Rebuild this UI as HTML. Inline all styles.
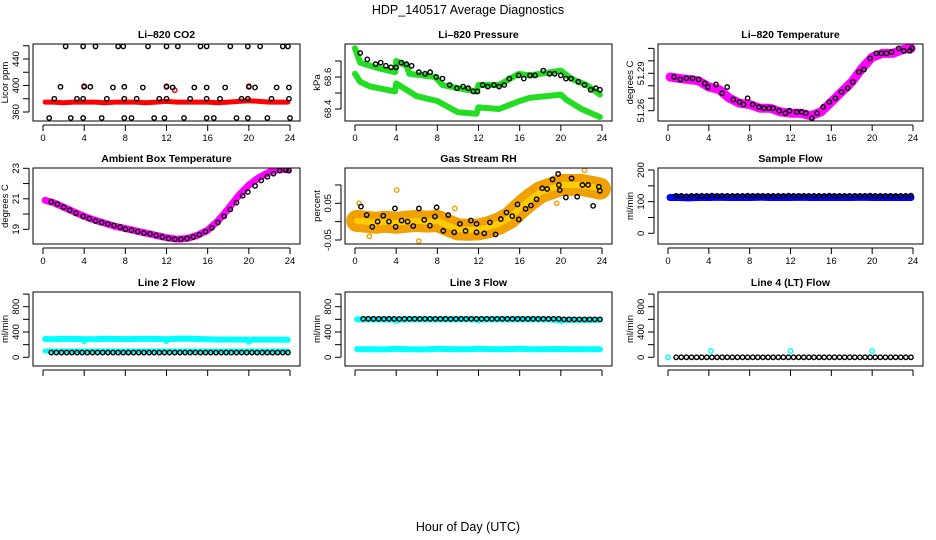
<!DOCTYPE html>
<html><head><meta charset="utf-8">
<style>
html,body{margin:0;padding:0;background:#fff;}
svg{display:block;font-family:"Liberation Sans",Arial,sans-serif;}
</style></head>
<body>
<svg id="chart" width="936" height="540" viewBox="0 0 936 540" xmlns="http://www.w3.org/2000/svg">
<rect width="936" height="540" fill="#fff"/>
<text x="468" y="14" font-size="12.5" text-anchor="middle">HDP_140517  Average Diagnostics</text>
<text x="468" y="531" font-size="12.5" text-anchor="middle">Hour of Day (UTC)</text>
<g id="panels"></g>
</svg>
<script>
// ---- shared categories ----
const bandHours = [0.2,1,2,3,4,5,6,7,8,9,10,11,12,13,14,15,16,17,18,19,20,21,22,23,23.8];
const denseHours = [0.8,1.3,1.8,2.3,2.8,3.3,3.8,4.3,4.8,5.3,5.8,6.3,6.8,7.3,7.8,8.3,8.8,9.3,9.8,10.3,10.8,11.3,11.8,12.3,12.8,13.3,13.8,14.3,14.8,15.3,15.8,16.3,16.8,17.3,17.8,18.3,18.8,19.3,19.8,20.3,20.8,21.3,21.8,22.3,22.8,23.3,23.8];
const xTicks = [0,4,8,12,16,20,24];

// ---- CO2 ----
const co2Band = [375,375,374,375,375,375,374,375,375,375,374,375,376,375,375,375,375,374,375,376,377,376,375,375,375];
const co2BlackH = [2.2,3.9,5.1,7.3,7.8,10.2,12.0,13.1,15.3,15.9,18.2,19.9,21.1,23.3,23.8, 1.7,4.0,4.6,6.8,7.9,9.7,12.0,12.6,14.7,15.9,17.7,20.0,20.6,22.7,23.9, 1.1,3.3,3.9,6.2,7.9,9.1,11.3,12.0,14.3,15.9,17.2,19.3,19.9,22.2,23.9, 0.6,2.7,3.9,5.7,7.9,8.6,10.8,11.8,13.7,15.9,16.6,18.8,19.9,21.8,24.0];
const co2BlackV = [459,459,459,459,459,459,459,459,459,459,459,459,459,459,459, 398,398,398,397,398,397,398,397,397,397,397,398,397,397,397, 380,380,380,380,380,380,380,380,380,380,380,380,380,380,380, 351,351,351,351,351,351,351,351,351,351,351,351,351,351,351];
const co2RedH = [4.0,12.0,12.8,20.0];
const co2RedV = [399,399,393,399];

// ---- Pressure ----
const presUpperH = [0,0.5,2,3.9,4.0,5,5.3,7.8,8.5,10,11.8,12,14,15.9,17,18,20,21,22.5,23.8];
const presUpperV = [68.78,68.69,68.66,68.63,68.70,68.67,68.62,68.60,68.55,68.53,68.51,68.55,68.55,68.62,68.61,68.62,68.64,68.59,68.55,68.49];
const presLowerH = [0,0.5,1.5,3.9,4.0,6,8,10,11.8,12,14,16,17,20,20.5,22,23.8];
const presLowerV = [68.62,68.57,68.54,68.51,68.56,68.48,68.45,68.38,68.37,68.41,68.40,68.45,68.47,68.49,68.46,68.40,68.35];
const presBlackH = [0.5,1.2,2,2.5,3,3.5,4,4.5,5,5.5,6.2,6.8,7.3,7.9,8.5,9.2,9.9,10.5,11,11.5,11.9,12.4,12.9,13.5,14,14.5,15,15.9,16.4,17,17.5,18.3,18.9,19.4,20,20.5,21,21.7,22.3,22.9,23.4,23.8];
const presBlackV = [68.75,68.71,68.68,68.69,68.67,68.66,68.66,68.69,68.68,68.67,68.63,68.62,68.63,68.60,68.59,68.55,68.53,68.54,68.53,68.51,68.51,68.55,68.54,68.55,68.54,68.55,68.59,68.61,68.59,68.61,68.61,68.64,68.62,68.62,68.61,68.59,68.59,68.57,68.55,68.52,68.53,68.52];

// ---- Li-820 Temperature ----
const tempBand = [51.287,51.286,51.285,51.284,51.279,51.277,51.270,51.266,51.265,51.262,51.262,51.259,51.258,51.258,51.256,51.259,51.267,51.275,51.283,51.294,51.303,51.306,51.306,51.309,51.310];
const tempBlackH = [0.6,1.2,1.8,2.4,3,3.6,3.9,4.7,5.3,5.8,6.4,7,7.4,7.8,8.3,8.9,9.4,9.9,10.3,10.9,11.5,11.9,12.6,13.1,13.5,14.1,14.6,15.2,15.8,16.4,17,17.6,18.1,18.7,19.2,19.8,20.4,20.9,21.4,21.9,22.6,23.1,23.7,23.9];
const tempBlackV = [51.287,51.285,51.286,51.286,51.285,51.282,51.279,51.281,51.274,51.279,51.269,51.267,51.265,51.270,51.265,51.263,51.262,51.262,51.262,51.260,51.258,51.260,51.259,51.259,51.258,51.254,51.258,51.263,51.267,51.270,51.275,51.278,51.283,51.291,51.293,51.302,51.306,51.306,51.306,51.307,51.310,51.308,51.308,51.310];

// ---- Ambient Box Temperature ----
const ambBand = [20.9,20.75,20.45,20.15,19.85,19.6,19.4,19.2,19.05,18.9,18.75,18.6,18.45,18.35,18.4,18.6,18.95,19.55,20.35,21.2,21.9,22.4,22.75,22.95,22.9];
const ambBlackH = [0.8,1.4,2,2.6,3.2,3.9,4.5,5.1,5.7,6.3,6.9,7.5,8.0,8.6,9.2,9.8,10.4,11,11.6,12.2,12.8,13.4,14,14.6,15.2,15.8,16.4,17,17.6,18.2,18.8,19.4,19.9,20.6,21.2,21.8,22.4,23,23.6,23.9];
const ambBlackV = [20.8,20.65,20.45,20.25,20.05,19.85,19.7,19.55,19.45,19.35,19.25,19.15,19.0,18.95,18.85,18.75,18.7,18.6,18.5,18.4,18.35,18.35,18.4,18.5,18.65,18.85,19.1,19.45,19.85,20.3,20.75,21.2,21.45,21.85,22.2,22.45,22.65,22.85,22.9,22.85];

// ---- Gas Stream RH ----
const rhBand = [0.002,0.0,-0.003,0.0,-0.003,0.0,0.002,0.0,0.002,-0.01,-0.021,-0.022,-0.021,-0.015,-0.005,0.01,0.036,0.06,0.08,0.09,0.1,0.1,0.1,0.095,0.09];
const rhBlackH = [0.58,1.13,1.68,2.2,2.75,3.3,3.88,3.95,4.53,5.11,5.66,6.21,6.73,7.28,7.93,7.77,8.58,9.06,9.64,10.19,10.74,11.26,11.81,11.81,12.56,13.11,13.66,14.17,14.72,15.28,15.79,15.92,16.57,17.09,17.64,18.19,18.67,19.19,19.81,19.74,19.9,20.49,21.04,21.59,22.1,22.65,23.14,23.69,23.79];
const rhBlackV = [0.041,0.018,-0.014,0.0,0.016,0.0,0.036,-0.014,0.003,0.0,-0.012,0.036,0.005,-0.011,0.039,0.014,-0.025,0.018,-0.029,-0.006,-0.025,0.003,-0.006,-0.029,-0.032,-0.002,-0.035,0.007,0.025,0.015,0.047,0.006,0.035,0.044,0.061,0.091,0.089,0.115,0.1,0.13,0.086,0.066,0.118,0.068,0.1,0.1,0.043,0.095,0.084];
const rhOutH = [4.05,6.2,0.4,1.4,9.7,19.6,22.3];
const rhOutV = [0.086,-0.053,0.05,-0.04,0.036,0.05,0.14];

// ---- Sample Flow ----
const sampleBand = [113,113,112,113,113,114,113,113,113,114,113,113,113,114,113,113,113,113,113,114,113,113,113,113,113];
const sampleBlack = [118,118,117,118,118,118,118,119,118,118,118,118,118,118,119,118,118,118,118,118,118,118,119,118,118,118,118,118,118,118,119,118,118,118,118,118,118,118,119,118,118,118,118,118,118,118,119];

// ---- Line 2 Flow ----
const line2Upper = [290,285,292,290,288,285,292,290,288,290,292,290,285,292,295,290,285,280,282,280,278,280,280,280,278];
const line2Lower = [100,100,100,100,100,100,100,100,100,100,100,100,100,100,100,100,100,100,100,100,100,100,100,100,100];
const line2Black = [75,75,75,75,75,75,75,75,75,75,75,75,75,75,75,75,75,75,75,75,75,75,75,75,75,75,75,75,75,75,75,75,75,75,75,75,75,75,75,75,75,75,75,75,75,75,75];
const line2DipH = [4,12,20];
const line2DipV = [250,255,245];

// ---- Line 3 Flow ----
const line3Upper = [600,600,598,600,592,600,600,600,600,600,600,600,598,600,600,600,600,600,600,598,585,590,590,590,592];
const line3Lower = [130,128,128,125,135,128,125,125,135,130,128,128,135,130,128,130,135,128,128,130,132,128,128,128,128];
const line3Black = [608,608,608,608,608,608,608,606,608,608,608,608,608,608,608,608,608,606,608,608,608,608,608,608,608,608,608,608,608,608,608,608,608,608,608,608,608,608,608,600,600,600,600,600,600,600,600];
const line3DipH = [4,12,20];
const line3DipV = [575,580,570];

// ---- Line 4 Flow ----
const line4Black = [0,0,0,0,0,0,0,0,0,0,0,0,0,0,0,0,0,0,0,0,0,0,0,0,0,0,0,0,0,0,0,0,0,0,0,0,0,0,0,0,0,0,0,0,0,0,0];
const line4CyanH = [0,4.2,12.0,20.0];
const line4CyanV = [0,100,100,100];

const NS = 'http://www.w3.org/2000/svg';
const root = document.getElementById('panels');
function mk(tag, attrs, parent){ const e=document.createElementNS(NS,tag); for(const k in attrs) e.setAttribute(k,attrs[k]); (parent||root).appendChild(e); return e; }

function panel(cfg){
  const g = mk('g',{});
  
  
  const x0 = cfg.l+10, x1 = cfg.r-10;
  const xs = h => x0 + (x1-x0)*h/24;
  const ys = v => cfg.yp1 + (v-cfg.yv1)*(cfg.yp2-cfg.yp1)/(cfg.yv2-cfg.yv1);
  const cx = (cfg.l+cfg.r)/2;
  const t = mk('text',{x:cx,y:cfg.t-6,'font-size':10.5,'font-weight':'bold','text-anchor':'middle'},g);
  t.textContent = cfg.title;
  
  
  const clip = mk('clipPath',{id:'c'+cfg.id},g);
  mk('rect',{x:cfg.l,y:cfg.t,width:cfg.r-cfg.l,height:cfg.b-cfg.t},clip);
  const plot = mk('g',{'clip-path':'url(#c'+cfg.id+')'},g);
  
  
  cfg.draw(plot, xs, ys);
  const box = mk('rect',{x:cfg.l,y:cfg.t,width:cfg.r-cfg.l,height:cfg.b-cfg.t,fill:'none',stroke:'#000','stroke-width':1},g);
  
  
  xTicks.forEach(h=>{
    const x = xs(h);
    const tk = mk('line',{x1:x,x2:x,y1:cfg.b+4,y2:cfg.b+10,stroke:'#000'},g);
    
    
    if(cfg.xlabels){
      const lt = mk('text',{x:x,y:cfg.b+20,'font-size':9.5,'text-anchor':'middle'},g);
      lt.textContent = h;
      
      
    }
  });
  mk('line',{x1:x0,x2:x1,y1:cfg.b+4,y2:cfg.b+4,stroke:'#000'},g);
  const yt = cfg.yticks.map(ys);
  mk('line',{x1:cfg.l-4,x2:cfg.l-4,y1:Math.min(...yt),y2:Math.max(...yt),stroke:'#000'},g);
  cfg.yticks.forEach(v=>{
    const y = ys(v);
    const tk = mk('line',{x1:cfg.l-10,x2:cfg.l-4,y1:y,y2:y,stroke:'#000'},g);
    
    
  });
  cfg.ylabels.forEach(v=>{
    const y = ys(v);
    const lt = mk('text',{x:0,y:0,'font-size':9.5,'text-anchor':'middle',transform:`translate(${cfg.l-14},${y}) rotate(-90)`},g);
    lt.textContent = cfg.fmt ? cfg.fmt(v) : v;
    
    
  });
  const yl = mk('text',{x:0,y:0,'font-size':9.5,'text-anchor':'middle',transform:`translate(${cfg.l-25},${(cfg.t+cfg.b)/2}) rotate(-90)`},g);
  yl.textContent = cfg.ylab;
  
  
}

function band(p, xs, ys, H, V, color, w, name){
  const pts = H.map((h,i)=>xs(h).toFixed(1)+','+ys(V[i]).toFixed(1)).join(' ');
  const pl = mk('polyline',{points:pts,fill:'none',stroke:color,'stroke-width':w,'stroke-linejoin':'round','stroke-linecap':'round'},p);
  
  
}
function dots(p, xs, ys, H, V, color, name, r){
  H.forEach((h,i)=>{
    const c = mk('circle',{cx:xs(h),cy:ys(V[i]),r:r||2.2,fill:'none',stroke:color,'stroke-width':1.4},p);
    
    
  });
}

// Row 1
panel({id:1,name:'co2-panel',title:'Li\u2013820 CO2',ylab:'Licor ppm',l:33,r:300,t:44,b:121,yv1:360,yp1:112,yv2:440,yp2:59,
  yticks:[360,380,400,420,440,460],ylabels:[360,400,440],xlabels:true,
  draw:(p,xs,ys)=>{ band(p,xs,ys,bandHours,co2Band,'#ff0000',5,'co2-red-series'); dots(p,xs,ys,co2RedH,co2RedV,'#ff0000','co2-red-point'); dots(p,xs,ys,co2BlackH,co2BlackV,'#000','co2-black-point'); }});
panel({id:2,name:'pressure-panel',title:'Li\u2013820 Pressure',ylab:'kPa',l:345,r:612,t:44,b:121,yv1:68.6,yp1:77,yv2:68.4,yp2:109,
  yticks:[68.4,68.5,68.6,68.7],ylabels:[68.4,68.6],xlabels:true,fmt:v=>v.toFixed(1),
  draw:(p,xs,ys)=>{ band(p,xs,ys,presUpperH,presUpperV,'#22dd22',6,'pressure-upper-green'); band(p,xs,ys,presLowerH,presLowerV,'#22dd22',6,'pressure-lower-green'); dots(p,xs,ys,presBlackH,presBlackV,'#000','pressure-black-point'); }});
panel({id:3,name:'li820-temperature-panel',title:'Li\u2013820 Temperature',ylab:'degrees C',l:658,r:923,t:44,b:121,yv1:51.26,yp1:110.7,yv2:51.29,yp2:73.3,
  yticks:[51.26,51.27,51.28,51.29,51.30,51.31],ylabels:[51.26,51.29],xlabels:true,fmt:v=>v.toFixed(2),
  draw:(p,xs,ys)=>{ band(p,xs,ys,bandHours,tempBand,'#ff00ff',9,'temperature-magenta'); dots(p,xs,ys,tempBlackH,tempBlackV,'#000','temperature-black-point'); }});
// Row 2
panel({id:4,name:'ambient-box-temperature-panel',title:'Ambient Box Temperature',ylab:'degrees C',l:33,r:300,t:168,b:244,yv1:23,yp1:168.3,yv2:19,yp2:229.3,
  yticks:[19,20,21,22,23],ylabels:[19,21,23],xlabels:true,
  draw:(p,xs,ys)=>{ band(p,xs,ys,bandHours,ambBand,'#ff00ff',7,'ambient-magenta'); dots(p,xs,ys,ambBlackH,ambBlackV,'#000','ambient-black-point'); }});
panel({id:5,name:'gas-stream-rh-panel',title:'Gas Stream RH',ylab:'percent',l:345,r:612,t:168,b:244,yv1:0.05,yp1:203.3,yv2:-0.05,yp2:240,
  yticks:[-0.05,0,0.05,0.1],ylabels:[-0.05,0.05],xlabels:true,fmt:v=>v.toFixed(2),
  draw:(p,xs,ys)=>{ band(p,xs,ys,bandHours,rhBand,'#f0a000',22,'rh-orange-cloud'); band(p,xs,ys,bandHours,rhBand,'#ffcc00',6,'rh-yellow-core'); dots(p,xs,ys,rhOutH,rhOutV,'#f0a000','rh-outlier-point'); dots(p,xs,ys,rhBlackH,rhBlackV,'#000','rh-black-point'); }});
panel({id:6,name:'sample-flow-panel',title:'Sample Flow',ylab:'ml/min',l:658,r:923,t:168,b:244,yv1:200,yp1:170,yv2:0,yp2:233.3,
  yticks:[0,50,100,150,200],ylabels:[0,100,200],xlabels:true,
  draw:(p,xs,ys)=>{ band(p,xs,ys,bandHours,sampleBand,'#0000ff',7,'sample-blue-series'); dots(p,xs,ys,denseHours,sampleBlack,'#000','sample-black-point'); }});
// Row 3
const r3 = {yv1:0,yp1:357.3,yv2:800,yp2:306.7,yticks:[0,200,400,600,800,1000],ylabels:[0,400,800],xlabels:false};
panel(Object.assign({id:7,name:'line2-flow-panel',title:'Line 2 Flow',ylab:'ml/min',l:33,r:300,t:292,b:366,
  draw:(p,xs,ys)=>{ band(p,xs,ys,bandHours,line2Upper,'#00ffff',6,'line2-cyan-upper'); band(p,xs,ys,bandHours,line2Lower,'#00ffff',5,'line2-cyan-lower'); dots(p,xs,ys,line2DipH,line2DipV,'#00ffff','line2-cyan-point'); dots(p,xs,ys,denseHours,line2Black,'#000','line2-black-point'); }},r3));
panel(Object.assign({id:8,name:'line3-flow-panel',title:'Line 3 Flow',ylab:'ml/min',l:345,r:612,t:292,b:366,
  draw:(p,xs,ys)=>{ band(p,xs,ys,bandHours,line3Upper,'#00ffff',6,'line3-cyan-upper'); band(p,xs,ys,bandHours,line3Lower,'#00ffff',6,'line3-cyan-lower'); dots(p,xs,ys,line3DipH,line3DipV,'#00ffff','line3-cyan-point'); dots(p,xs,ys,denseHours,line3Black,'#000','line3-black-point'); }},r3));
panel(Object.assign({id:9,name:'line4-flow-panel',title:'Line 4 (LT) Flow',ylab:'ml/min',l:658,r:923,t:292,b:366,
  draw:(p,xs,ys)=>{ dots(p,xs,ys,line4CyanH,line4CyanV,'#00ffff','line4-cyan-point'); dots(p,xs,ys,denseHours,line4Black,'#000','line4-black-point'); }},r3));
</script>
</body></html>
